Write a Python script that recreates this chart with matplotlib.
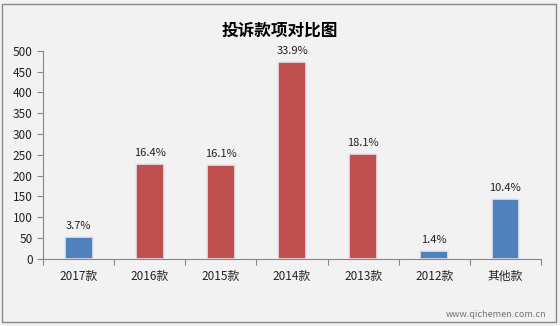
import matplotlib.pyplot as plt
from matplotlib.patches import Rectangle

plt.rcParams['font.family'] = ['Noto Sans CJK SC', 'DejaVu Sans']

# 数据
categories = ['2017款', '2016款', '2015款', '2014款', '2013款', '2012款', '其他款']
counts = [52, 229, 225, 473, 252, 20, 145]
labels = ['3.7%', '16.4%', '16.1%', '33.9%', '18.1%', '1.4%', '10.4%']
colors = ['#4F81BD', '#C0504D', '#C0504D', '#C0504D', '#C0504D', '#4F81BD', '#4F81BD']

fig = plt.figure(figsize=(5.6, 3.26), dpi=100, facecolor='#F2F2F2')
ax = fig.add_axes([0.077, 0.206, 0.889, 0.638])
ax.set_facecolor('#F2F2F2')

x = range(len(categories))
bars = ax.bar(x, counts, width=0.39, color=colors, edgecolor='#E6E6EE', linewidth=1.2)
for b, t in zip(bars, labels):
    ax.text(b.get_x() + b.get_width() / 2, b.get_height() + 14, t,
            ha='center', va='bottom', fontsize=8, color='#222222')

ax.set_xlim(-0.5, len(categories) - 0.5)
ax.set_ylim(0, 500)
ax.set_yticks(range(0, 501, 50))
ax.set_xticks([i - 0.5 for i in range(len(categories) + 1)], minor=False)
ax.set_xticklabels([])
ax.set_xticks(list(x), minor=True)
ax.set_xticklabels(categories, minor=True)
ax.tick_params(axis='x', which='major', length=4, color='#868686', direction='out')
ax.tick_params(axis='x', which='minor', length=0, labelsize=8.5, pad=8, labelcolor='#222222')
ax.tick_params(axis='y', length=4, color='#868686', labelsize=8.5, labelcolor='#222222')

for s in ['top', 'right']:
    ax.spines[s].set_visible(False)
for s in ['left', 'bottom']:
    ax.spines[s].set_color('#868686')

fig.text(0.5, 0.905, '投诉款项对比图', ha='center', va='center',
         fontsize=12, fontweight='bold', color='black')
fig.text(0.975, 0.035, 'www.qichemen.com.cn', ha='right', va='center',
         fontsize=6.5, color='#555555', alpha=0.8)

fig.patches.append(Rectangle((0.004, 0.012), 0.988, 0.975, transform=fig.transFigure,
                             fill=False, edgecolor='#888888', linewidth=1))

fig.savefig('out.png', dpi=100, facecolor=fig.get_facecolor())
